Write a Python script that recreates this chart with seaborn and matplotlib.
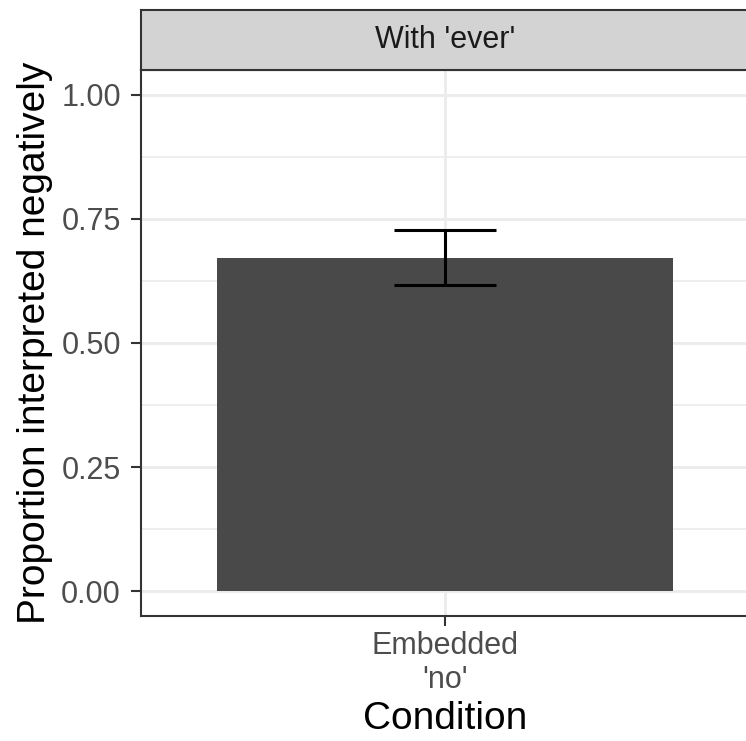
import matplotlib
matplotlib.use("Agg")
import matplotlib.pyplot as plt
import seaborn as sns
import pandas as pd
import numpy as np

# ---- data ----
conditions = ["Embedded\n'no'"]
proportions = [0.672]
ci_lower = [0.616]
ci_upper = [0.728]
facet_label = "With 'ever'"
y_ticks = [0.00, 0.25, 0.50, 0.75, 1.00]
y_tick_labels = ["0.00", "0.25", "0.50", "0.75", "1.00"]

df = pd.DataFrame({"Condition": conditions, "Proportion": proportions})

sns.set_theme(style="white")
plt.rcParams["font.family"] = ["Liberation Sans", "DejaVu Sans"]

W, H = 746, 741
fig = plt.figure(figsize=(W / 100, H / 100), dpi=100)

px = lambda x: x / W
py = lambda y: 1 - y / H

left, right = 141, 749
top, bottom = 70, 616
ax = fig.add_axes([px(left), py(bottom), px(right - left), (bottom - top) / H])

sns.barplot(data=df, x="Condition", y="Proportion", color="#494949",
            saturation=1, width=0.9, errorbar=None, ax=ax, zorder=3)
for p in ax.patches:
    p.set_edgecolor("none")

# error bars
for i, (lo, hi) in enumerate(zip(ci_lower, ci_upper)):
    ax.vlines(i, lo, hi, color="black", lw=2.2, zorder=4)
    ax.hlines([lo, hi], i - 0.1, i + 0.1, color="black", lw=2.2, zorder=4)

ax.set_xlim(-0.6, 0.6)
ax.set_ylim(-0.05, 1.05)
ax.set_yticks(y_ticks)
ax.set_yticklabels(y_tick_labels)
ax.set_yticks([0.125, 0.375, 0.625, 0.875], minor=True)

ax.set_axisbelow(True)
ax.grid(True, which="major", color="#EBEBEB", lw=2.0)
ax.grid(True, which="minor", axis="y", color="#EBEBEB", lw=1.2)

for s in ax.spines.values():
    s.set_color("#333333")
    s.set_linewidth(1.5)

ax.tick_params(axis="both", which="major", length=7, width=1.5, color="#333333",
               labelsize=22, labelcolor="#4D4D4D", direction="out",
               bottom=True, left=True)
ax.tick_params(axis="y", which="major", pad=7.5)
ax.tick_params(axis="x", which="major", pad=4)
ax.tick_params(axis="both", which="minor", length=0)
for lab in ax.get_xticklabels():
    lab.set_linespacing(1.15)

ax.set_xlabel("Condition", fontsize=28, color="black", labelpad=4.5)
ax.set_ylabel("Proportion interpreted negatively", fontsize=28, color="black", labelpad=6)

# strip
sax = fig.add_axes([px(left), py(70), px(right - left), 60 / H])
sax.set_facecolor("#D3D3D3")
sax.set_xticks([])
sax.set_yticks([])
for s in sax.spines.values():
    s.set_color("#333333")
    s.set_linewidth(1.5)
sax.text((445 - left) / (right - left), 0.5, facet_label, ha="center", va="center",
         fontsize=22, color="#1A1A1A", transform=sax.transAxes)

fig.savefig("out.png", dpi=100)
